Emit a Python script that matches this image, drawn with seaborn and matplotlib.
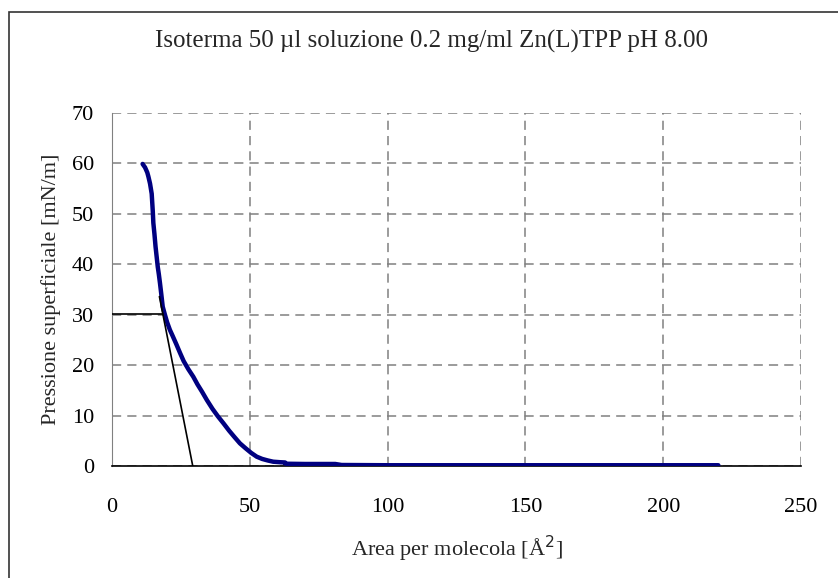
import matplotlib
matplotlib.use("Agg")
import matplotlib.pyplot as plt
import seaborn as sns
import pandas as pd
from matplotlib.patches import Rectangle

# isotherm
area = [11.1, 12.0, 12.8, 13.2, 13.8, 14.4, 14.8, 15.0, 15.4, 15.8, 16.2, 16.6,
        17.0, 17.4, 17.9, 18.4, 19.2, 20.0, 21.0, 22.0, 23.3, 24.7, 26.0, 27.7,
        29.5, 31.0, 32.7, 34.4, 36.5, 38.5, 40.4, 42.5, 44.5, 46.4, 48.5, 50.5,
        52.5, 54.5, 56.5, 58.5, 61.0, 62.8, 63.0, 70.0, 75.0, 81.0, 83.3, 100.0,
        150.0, 200.0, 220.0]
pressure = [59.9, 59.2, 58.2, 57.4, 56.0, 54.0, 50.5, 48.2, 46.0, 43.5, 41.5, 39.5,
            38.0, 36.3, 34.0, 31.6, 30.0, 28.5, 27.0, 25.8, 24.2, 22.4, 20.8, 19.2,
            17.7, 16.2, 14.7, 13.1, 11.3, 9.8, 8.5, 7.0, 5.7, 4.5, 3.5, 2.6,
            1.85, 1.4, 1.1, 0.85, 0.75, 0.7, 0.45, 0.4, 0.4, 0.4, 0.2, 0.15,
            0.15, 0.15, 0.15]

# tangent construction
tan_x = [17.2, 29.3]
tan_y = [33.6, 0.0]
hor_x = [0.0, 18.6]
hor_y = [30.2, 30.2]

x_ticks = [0, 50, 100, 150, 200, 250]
y_ticks = [0, 10, 20, 30, 40, 50, 60, 70]

df = pd.DataFrame({"area": area, "pressure": pressure})

sns.set_style("white")
plt.rcParams["font.family"] = ["Liberation Serif", "DejaVu Serif"]

fig = plt.figure(figsize=(8.38, 5.78), dpi=100)
ax = fig.add_axes([112 / 838, 1 - 466 / 578, 689 / 838, 353 / 578])

# outer chart frame (runs off the right and bottom edge)
fig.patches.append(Rectangle((9 / 838, -0.2), 1.2, 1.2 - 12 / 578,
                             transform=fig.transFigure, fill=False,
                             edgecolor="#333333", linewidth=1.2))

ax.grid(True, color="#808080", linestyle=(0, (6, 4)), linewidth=1.1)
ax.set_axisbelow(True)

sns.lineplot(data=df, x="area", y="pressure", ax=ax, sort=False,
             color="#000080", linewidth=3.2, zorder=4)
sns.lineplot(x=tan_x, y=tan_y, ax=ax, color="black", linewidth=1.2, zorder=5)
sns.lineplot(x=hor_x, y=hor_y, ax=ax, color="black", linewidth=1.2, zorder=5)

ax.set_xlim(0, 250)
ax.set_ylim(0, 70)
ax.set_xticks(x_ticks)
ax.set_yticks(y_ticks)
ax.tick_params(axis="both", direction="out", length=5, width=1,
               colors="#808080", labelcolor="black", labelsize=16)
ax.tick_params(axis="x", pad=18)
ax.tick_params(axis="y", pad=8)

for s in ["top", "right"]:
    ax.spines[s].set_visible(False)
ax.spines["left"].set_color("#808080")
ax.spines["bottom"].set_color("black")
ax.spines["bottom"].set_linewidth(1.2)
ax.spines["bottom"].set_zorder(3)

ax.set_xlabel("Area per molecola [Å$^2$]", fontsize=16, labelpad=12)
ax.set_ylabel("Pressione superficiale [mN/m]", fontsize=16, labelpad=8)
fig.text(431 / 838, 1 - 41 / 578,
         "Isoterma 50 µl soluzione 0.2 mg/ml Zn(L)TPP pH 8.00",
         ha="center", va="center", fontsize=18)

fig.savefig("out.png", dpi=100)
